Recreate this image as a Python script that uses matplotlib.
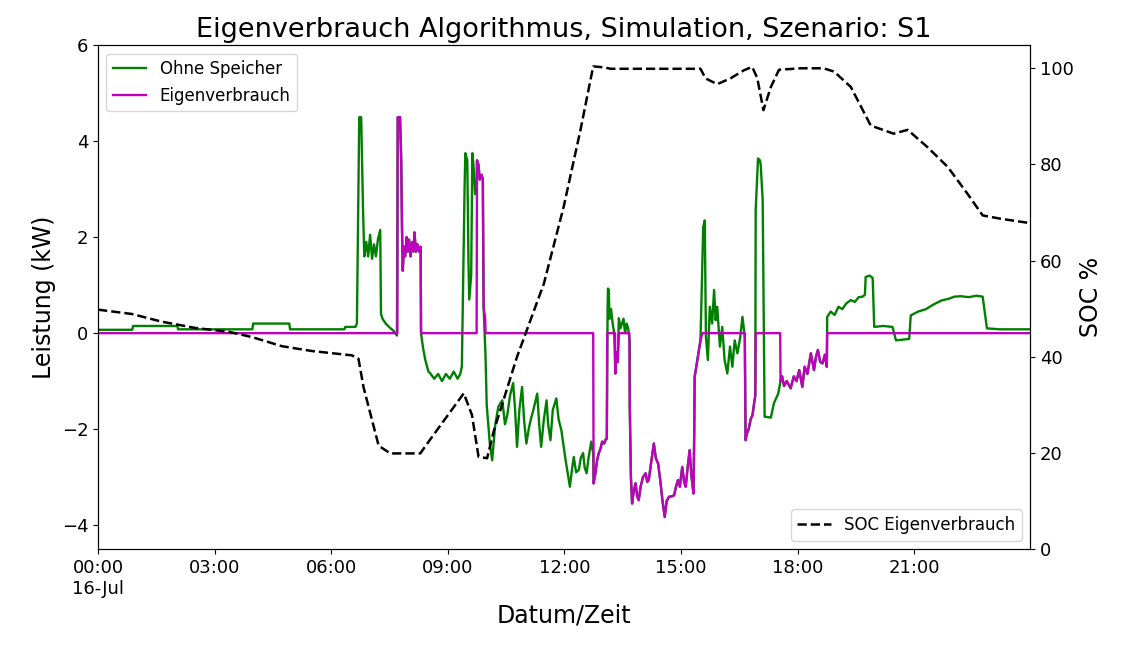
import numpy as np
import pandas as pd
import matplotlib
matplotlib.use("Agg")
import matplotlib.pyplot as plt
import matplotlib.dates as mdates
from matplotlib.ticker import FuncFormatter

# Tag der Simulation
tag = pd.Timestamp("2018-07-16")

# Leistung ohne Speicher (Stunden, kW), nur die Abschnitte wo Gruen sichtbar ist
ohne_h_1 = [0.0, 0.88, 0.90, 2.04, 2.06, 3.97, 3.99, 4.92, 4.94, 6.34, 6.36, 6.62, 6.66,
            6.72, 6.77, 6.82, 6.85, 6.90, 6.95, 7.00, 7.05, 7.10, 7.15, 7.20, 7.26, 7.28,
            7.32, 7.40, 7.50, 7.60, 7.69]
ohne_kw_1 = [0.07, 0.07, 0.15, 0.15, 0.08, 0.08, 0.2, 0.2, 0.08, 0.08, 0.13, 0.13, 0.2,
             4.5, 4.5, 2.5, 1.6, 1.9, 1.6, 2.05, 1.55, 1.85, 1.6, 1.95, 2.15, 0.4,
             0.3, 0.2, 0.12, 0.05, -0.05]
ohne_h_2 = [8.31, 8.36, 8.42, 8.50, 8.55, 8.65, 8.75, 8.85, 8.95, 9.05, 9.15, 9.25, 9.32,
            9.36, 9.43, 9.45, 9.50, 9.53, 9.55, 9.60, 9.63, 9.66, 9.70, 9.74]
ohne_kw_2 = [0.0, -0.3, -0.56, -0.8, -0.84, -0.95, -0.85, -1.0, -0.85, -0.95, -0.8, -0.95, -0.85,
             -0.7, 3.0, 3.75, 3.6, 1.5, 0.7, 1.2, 3.75, 3.5, 2.9, 3.0]
ohne_h_3 = [9.97, 10.00, 10.04, 10.08, 10.14, 10.22, 10.30, 10.40, 10.47, 10.53, 10.60, 10.68,
            10.73, 10.78, 10.84, 10.91, 10.96, 11.02, 11.08, 11.13, 11.20, 11.30, 11.35, 11.40,
            11.47, 11.54, 11.58, 11.64, 11.70, 11.79, 11.85, 11.92, 12.03, 12.14, 12.20, 12.24,
            12.30, 12.37, 12.42, 12.48, 12.52, 12.57, 12.62, 12.69, 12.74]
ohne_kw_3 = [-0.5, -1.5, -1.9, -2.3, -2.65, -1.9, -1.53, -1.4, -1.9, -1.7, -1.3, -1.04,
             -1.6, -2.37, -1.6, -1.12, -1.8, -2.3, -2.0, -1.81, -1.6, -1.26, -1.9, -2.37,
             -1.8, -1.4, -1.9, -2.23, -1.6, -1.36, -1.8, -2.02, -2.65, -3.2, -2.8, -2.58,
             -2.9, -2.85, -2.6, -2.5, -2.8, -2.92, -2.6, -2.26, -2.5]
ohne_h_4 = [13.11, 13.12, 13.14, 13.16, 13.20, 13.24, 13.28, 13.31, 13.34, 13.37, 13.40,
            13.44, 13.48, 13.52, 13.56, 13.60, 13.64, 13.68]
ohne_kw_4 = [0.5, 0.93, 0.9, 0.3, 0.5, 0.2, 0.0, -0.84, -0.4, -0.6, 0.31,
             0.1, 0.2, 0.3, 0.0, 0.2, 0.1, -0.2]
ohne_h_5 = [15.57, 15.61, 15.64, 15.69, 15.74, 15.80, 15.85, 15.89, 15.93, 16.00, 16.06,
            16.12, 16.19, 16.26, 16.32, 16.38, 16.45, 16.52, 16.58, 16.64]
ohne_kw_5 = [2.21, 2.35, -0.08, -0.56, 0.55, 0.2, 0.9, 0.27, 0.55, -0.28, 0.13,
             -0.56, -0.84, -0.28, -0.7, -0.15, -0.42, -0.1, 0.34, -0.08]
ohne_h_6 = [16.92, 16.98, 17.03, 17.05, 17.10, 17.12, 17.15, 17.31, 17.39, 17.50]
ohne_kw_6 = [2.56, 3.64, 3.6, 3.5, 2.77, 0.96, -1.74, -1.76, -1.46, -1.26]
ohne_h_7 = [18.76, 18.85, 18.95, 19.05, 19.15, 19.25, 19.37, 19.47, 19.57, 19.67, 19.73,
            19.75, 19.85, 19.93, 19.97, 20.20, 20.44, 20.53, 20.87, 20.91, 21.10, 21.30,
            21.50, 21.70, 21.90, 22.03, 22.20, 22.40, 22.60, 22.76, 22.87, 23.20, 23.98]
ohne_kw_7 = [0.34, 0.45, 0.38, 0.55, 0.5, 0.62, 0.69, 0.65, 0.75, 0.76, 0.8,
             1.17, 1.2, 1.15, 0.13, 0.15, 0.13, -0.15, -0.12, 0.37, 0.45, 0.5,
             0.6, 0.68, 0.72, 0.76, 0.77, 0.75, 0.78, 0.76, 0.1, 0.08, 0.08]

# Netzleistung mit Eigenverbrauch-Algorithmus (Stunden, kW)
eigen_h_1 = [0.0, 7.70, 7.71, 7.77, 7.80, 7.82, 7.84, 7.87, 7.90, 7.94, 7.97, 8.00, 8.04,
             8.08, 8.12, 8.14, 8.18, 8.22, 8.26, 8.30]
eigen_kw_1 = [0.0, 0.0, 4.5, 4.5, 3.6, 2.2, 1.3, 1.8, 1.6, 2.0, 1.7, 1.95, 1.6,
              1.9, 1.7, 2.1, 1.7, 1.85, 1.7, 1.8]
eigen_h_2 = [8.31, 9.74, 9.75, 9.79, 9.82, 9.87, 9.90, 9.92, 9.96]
eigen_kw_2 = [0.0, 0.0, 3.6, 3.5, 3.2, 3.3, 3.2, 0.55, 0.3]
eigen_h_3 = [9.97, 12.74, 12.75, 12.80, 12.84, 12.88, 12.93, 12.97, 13.02, 13.06, 13.09]
eigen_kw_3 = [0.0, 0.0, -3.13, -2.9, -2.65, -2.51, -2.4, -2.26, -2.3, -2.22, -2.2]
eigen_h_4 = [13.10, 13.30, 13.31, 13.34, 13.37, 13.40, 13.67, 13.68, 13.71, 13.74, 13.78,
             13.83, 13.87, 13.91, 13.96, 14.02, 14.09, 14.13, 14.17, 14.23, 14.30, 14.35,
             14.41, 14.47, 14.52, 14.58, 14.63, 14.69, 14.76, 14.82, 14.87, 14.92, 14.97,
             15.03, 15.08, 15.12, 15.17, 15.22, 15.27, 15.32, 15.34, 15.35, 15.42, 15.47,
             15.50]
eigen_kw_4 = [0.0, 0.0, -0.84, -0.4, -0.6, 0.0, 0.0, -1.5, -3.0, -3.55, -3.3,
              -3.13, -3.4, -3.48, -3.2, -3.0, -2.92, -3.1, -3.06, -2.7, -2.3, -2.6,
              -2.72, -3.1, -3.48, -3.83, -3.5, -3.41, -3.4, -3.38, -3.2, -3.06, -3.2,
              -2.79, -3.1, -3.2, -2.8, -2.44, -3.0, -3.34, -2.0, -0.91, -0.56, -0.3,
              -0.15]
eigen_h_5 = [15.55, 16.64, 16.66, 16.69, 16.74, 16.79, 16.84, 16.88, 16.91]
eigen_kw_5 = [0.0, 0.0, -2.23, -2.1, -2.0, -1.8, -1.7, -1.46, -1.3]
eigen_h_6 = [16.92, 17.55, 17.56, 17.60, 17.65, 17.72, 17.82, 17.90, 17.97, 18.04, 18.12,
             18.18, 18.25, 18.34, 18.42, 18.47, 18.52, 18.58, 18.64, 18.70, 18.75]
eigen_kw_6 = [0.0, 0.0, -1.0, -0.9, -1.1, -1.0, -1.15, -0.9, -1.0, -0.77, -1.12,
              -0.7, -0.85, -0.42, -0.77, -0.5, -0.35, -0.6, -0.63, -0.45, -0.7]
eigen_h_7 = [18.76, 23.98]
eigen_kw_7 = [0.0, 0.0]

# Ladezustand der Batterie (Stunden, %)
soc_h = [0.0, 0.87, 1.64, 2.50, 3.36, 3.96, 4.73, 5.50, 6.53, 6.70, 6.83, 7.05, 7.22, 7.52,
         8.29, 8.59, 9.41, 9.62, 9.79, 10.01, 10.18, 10.78, 11.47, 11.98, 12.41, 12.74,
         13.01, 13.19, 15.50, 15.63, 15.93, 16.27, 16.62, 16.83, 16.96, 17.12, 17.31, 17.52,
         18.08, 18.67, 18.94, 19.37, 19.88, 20.47, 20.83, 21.34, 21.86, 22.37, 22.76, 23.23,
         23.98]
soc = [49.8, 48.9, 47.3, 46.0, 45.2, 44.1, 42.2, 41.2, 40.3, 39.6, 33.7, 26.8, 21.5, 19.9,
       19.9, 23.3, 32.4, 27.9, 19.2, 18.9, 24.5, 40.0, 55.2, 71.2, 87.1, 100.4,
       100.2, 99.9, 99.9, 97.9, 96.7, 97.9, 99.6, 100.3, 98.0, 91.3, 96.1, 99.7,
       100.0, 100.0, 99.3, 96.1, 88.1, 86.4, 87.2, 83.6, 79.5, 73.9, 69.4, 68.7,
       67.8]

# Eigenverbrauch zusammensetzen
eigen_h = eigen_h_1 + eigen_h_2 + eigen_h_3 + eigen_h_4 + eigen_h_5 + eigen_h_6 + eigen_h_7
eigen_kw = eigen_kw_1 + eigen_kw_2 + eigen_kw_3 + eigen_kw_4 + eigen_kw_5 + eigen_kw_6 + eigen_kw_7

# Ohne Speicher = Eigenverbrauch dort wo der Speicher nichts tut
def teil(h, kw, von, bis):
    return [(a, b) for a, b in zip(h, kw) if von <= a <= bis]

ohne = (list(zip(ohne_h_1, ohne_kw_1)) + teil(eigen_h, eigen_kw, 7.71, 8.30)
        + list(zip(ohne_h_2, ohne_kw_2)) + teil(eigen_h, eigen_kw, 9.75, 9.92)
        + list(zip(ohne_h_3, ohne_kw_3)) + teil(eigen_h, eigen_kw, 12.75, 13.09)
        + list(zip(ohne_h_4, ohne_kw_4)) + teil(eigen_h, eigen_kw, 13.68, 15.50)
        + list(zip(ohne_h_5, ohne_kw_5)) + teil(eigen_h, eigen_kw, 16.66, 16.91)
        + list(zip(ohne_h_6, ohne_kw_6)) + teil(eigen_h, eigen_kw, 17.56, 18.75)
        + list(zip(ohne_h_7, ohne_kw_7)))
ohne_h = [a for a, b in ohne]
ohne_kw = [b for a, b in ohne]


def zeit(h):
    return tag + pd.to_timedelta(np.array(h), unit="h")


fig = plt.figure(figsize=(11.27, 6.46), dpi=100)
ax = fig.add_axes([0.087, 0.150, 0.827, 0.780])

ax.plot(zeit(ohne_h), ohne_kw, color="green", lw=1.7, label="Ohne Speicher")
ax.plot(zeit(eigen_h), eigen_kw, color="m", lw=1.7, label="Eigenverbrauch")
ax.set_ylim(-4.5, 6)
ax.set_yticks([-4, -2, 0, 2, 4, 6])
ax.set_ylabel("Leistung (kW)", fontsize=17)
ax.set_xlabel("Datum/Zeit", fontsize=17)
ax.set_title("Eigenverbrauch Algorithmus, Simulation, Szenario: S1", fontsize=19.5)
ax.set_xlim(tag, tag + pd.Timedelta(hours=23.98))
ax.xaxis.set_major_locator(mdates.HourLocator(byhour=range(0, 24, 3)))


def zeit_label(x, pos):
    d = mdates.num2date(x)
    if d.hour == 0:
        return d.strftime("%H:%M") + "\n" + d.strftime("%d-%b")
    return d.strftime("%H:%M")


ax.xaxis.set_major_formatter(FuncFormatter(zeit_label))
for lab in ax.get_xticklabels():
    lab.set_ha("center")
ax.tick_params(labelsize=13)
ax.legend(loc="upper left", fontsize=12)

ax2 = ax.twinx()
ax2.plot(zeit(soc_h), soc, "k--", lw=1.8, label="SOC Eigenverbrauch")
ax2.set_ylim(0, 104.8)
ax2.set_yticks([0, 20, 40, 60, 80, 100])
ax2.set_ylabel("SOC %", fontsize=17)
ax2.tick_params(labelsize=13)
ax2.legend(loc="lower right", fontsize=12)

fig.savefig("out.png", dpi=100)
